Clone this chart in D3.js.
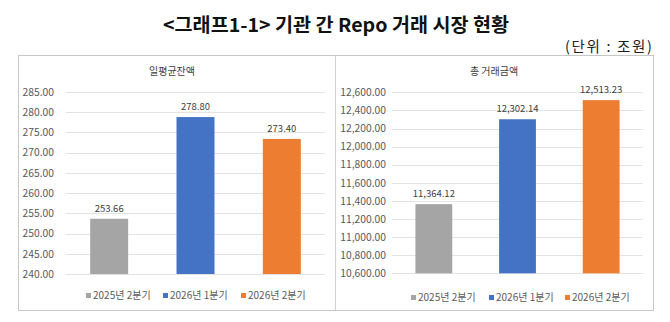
<!DOCTYPE html>
<html><head><meta charset="utf-8">
<script src="https://cdn.jsdelivr.net/npm/d3@7"></script>
<style>body{margin:0;background:#fff}svg{display:block}</style>
</head><body>
<script>
const categories = ["2025년 2분기", "2026년 1분기", "2026년 2분기"];
const avgBalance = [253.66, 278.80, 273.40];
const totalVolume = [11364.12, 12302.14, 12513.23];
const leftTicks = [240, 245, 250, 255, 260, 265, 270, 275, 280, 285];
const rightTicks = [10600, 10800, 11000, 11200, 11400, 11600, 11800, 12000, 12200, 12400, 12600];
const colors = ["#a5a5a5", "#4472c4", "#ed7d31"];
const mainTitle = "<그래프1-1> 기관 간 Repo 거래 시장 현황";
const unitText = "(단위 : 조원)";
const panelTitles = ["일평균잔액", "총 거래금액"];

const W = 670, H = 322;
const font = "'Noto Sans CJK KR', 'Noto Sans', sans-serif";
const svg = d3.select("body").append("svg").attr("width", W).attr("height", H)
  .style("font-family", font);

svg.append("text").attr("x", 336).attr("y", 32).attr("text-anchor", "middle")
  .attr("font-size", 19).attr("font-weight", "bold").attr("fill", "#111")
  .attr("textLength", 346).attr("lengthAdjust", "spacingAndGlyphs").text(mainTitle);
svg.append("text").attr("x", 652).attr("y", 52).attr("text-anchor", "end")
  .attr("font-size", 14.5).attr("fill", "#222")
  .attr("textLength", 87).attr("lengthAdjust", "spacing").text(unitText);

svg.append("rect").attr("x", 18.5).attr("y", 55.5).attr("width", 635).attr("height", 255)
  .attr("fill", "none").attr("stroke", "#8c8c8c").attr("stroke-width", 1).attr("stroke-dasharray", "1,1");
svg.append("line").attr("x1", 335.5).attr("x2", 335.5).attr("y1", 56).attr("y2", 310)
  .attr("stroke", "#d0d0d0");

const fmt2 = d3.format(",.2f");

function panel(cfg) {
  const g = svg.append("g");
  const x = d3.scaleBand().domain(categories).range(cfg.xr).paddingInner(0.56).paddingOuter(0.28);
  const y = d3.scaleLinear().domain(cfg.domain).range(cfg.yr);
  g.selectAll(".grid").data(cfg.ticks).join("line")
    .attr("x1", cfg.xr[0]).attr("x2", cfg.xr[1])
    .attr("y1", d => Math.round(y(d)) + 0.5).attr("y2", d => Math.round(y(d)) + 0.5)
    .attr("stroke", "#e3e3e3");
  const ax = g.append("g").attr("transform", `translate(${cfg.labelX},0)`)
    .call(d3.axisLeft(y).tickValues(cfg.ticks).tickFormat(fmt2).tickSize(0).tickPadding(0));
  ax.select(".domain").remove();
  ax.selectAll("text").attr("fill", "#595959").attr("font-size", 10.3).style("font-family", font);
  g.selectAll(".bar").data(cfg.values).join("rect")
    .attr("x", (d, i) => x(categories[i])).attr("width", x.bandwidth())
    .attr("y", d => y(d)).attr("height", d => y(cfg.domain[0]) - y(d))
    .attr("fill", (d, i) => colors[i]);
  g.selectAll(".lbl").data(cfg.values).join("text")
    .attr("x", (d, i) => x(categories[i]) + x.bandwidth() / 2).attr("y", d => y(d) - 7)
    .attr("text-anchor", "middle").attr("font-size", 9.5).attr("fill", "#404040")
    .text(d => fmt2(d));
  g.append("text").attr("x", cfg.titleX).attr("y", 75).attr("text-anchor", "middle")
    .attr("font-size", 10).attr("fill", "#404040").text(cfg.title);
  const lg = g.selectAll(".lg").data(categories).join("g")
    .attr("transform", (d, i) => `translate(${cfg.legendX[i]},${cfg.legendY})`);
  lg.append("rect").attr("x", 0).attr("y", -6).attr("width", 5).attr("height", 5)
    .attr("fill", (d, i) => colors[i]);
  lg.append("text").attr("x", 7).attr("y", 0).attr("font-size", 10).attr("fill", "#595959").text(d => d);
}

panel({ xr: [66, 325], yr: [274, 92], domain: [240, 285], ticks: leftTicks, values: avgBalance,
  labelX: 54, title: panelTitles[0], titleX: 172, legendX: [86, 163, 241], legendY: 299 });
panel({ xr: [392, 643], yr: [273.3, 92.3], domain: [10600, 12600], ticks: rightTicks, values: totalVolume,
  labelX: 386, title: panelTitles[1], titleX: 494, legendX: [411, 489, 565], legendY: 301 });
</script>
</body></html>
